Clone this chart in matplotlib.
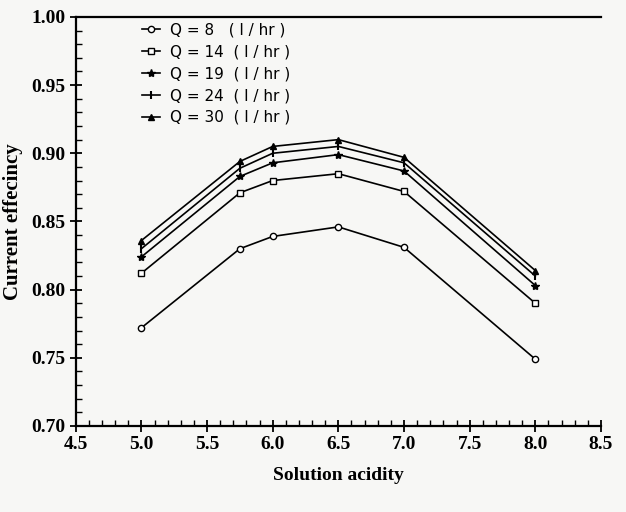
import matplotlib.pyplot as plt
from matplotlib.ticker import MultipleLocator

# Solution acidity (x) and current efficiency for each flow rate
acidity = [5.0, 5.75, 6.0, 6.5, 7.0, 8.0]
eff_q8 = [0.772, 0.830, 0.839, 0.846, 0.831, 0.749]
eff_q14 = [0.812, 0.871, 0.880, 0.885, 0.872, 0.790]
eff_q19 = [0.824, 0.883, 0.893, 0.899, 0.887, 0.803]
eff_q24 = [0.830, 0.889, 0.900, 0.905, 0.893, 0.810]
eff_q30 = [0.836, 0.894, 0.905, 0.910, 0.897, 0.814]

labels = ['Q = 8   ( l / hr )', 'Q = 14  ( l / hr )', 'Q = 19  ( l / hr )',
          'Q = 24  ( l / hr )', 'Q = 30  ( l / hr )']

serif = 'Liberation Serif'

fig = plt.figure(figsize=(6.26, 5.12), dpi=100)
fig.patch.set_facecolor('#f7f7f5')
ax = fig.add_axes([0.121, 0.168, 0.839, 0.799])
ax.set_facecolor('#f7f7f5')

ax.plot(acidity, eff_q8, color='black', lw=1.2, marker='o', ms=4.5,
        mfc='white', mec='black', mew=1.0, label=labels[0])
ax.plot(acidity, eff_q14, color='black', lw=1.2, marker='s', ms=4.5,
        mfc='white', mec='black', mew=1.0, label=labels[1])
ax.plot(acidity, eff_q19, color='black', lw=1.2, marker='*', ms=6,
        mfc='black', mec='black', label=labels[2])
ax.plot(acidity, eff_q24, color='black', lw=1.2, marker='|', ms=6,
        mec='black', mew=1.5, label=labels[3])
ax.plot(acidity, eff_q30, color='black', lw=1.2, marker='^', ms=4.5,
        mfc='black', mec='black', label=labels[4])

ax.set_xlim(4.5, 8.5)
ax.set_ylim(0.70, 1.00)
ax.xaxis.set_major_locator(MultipleLocator(0.5))
ax.xaxis.set_minor_locator(MultipleLocator(0.1))
ax.yaxis.set_major_locator(MultipleLocator(0.05))
ax.yaxis.set_minor_locator(MultipleLocator(0.01))
ax.xaxis.set_major_formatter(plt.FormatStrFormatter('%.1f'))
ax.yaxis.set_major_formatter(plt.FormatStrFormatter('%.2f'))

ax.spines['right'].set_visible(False)
for s in ['left', 'bottom', 'top']:
    ax.spines[s].set_linewidth(1.6)

ax.tick_params(axis='both', which='major', direction='inout', length=8, width=1.3,
               top=False, right=False)
ax.tick_params(axis='both', which='minor', direction='in', length=4, width=1.0,
               top=False, right=False)
for lab in ax.get_xticklabels() + ax.get_yticklabels():
    lab.set_fontfamily(serif)
    lab.set_fontweight('bold')
    lab.set_fontsize(14)

ax.set_xlabel('Solution acidity', fontfamily=serif, fontweight='bold', fontsize=14, labelpad=10)
ax.set_ylabel('Current effecincy', fontfamily=serif, fontweight='bold', fontsize=15, labelpad=6)

ax.legend(loc='upper left', bbox_to_anchor=(0.1, 1.02), frameon=False,
          prop={'family': ['Liberation Sans Narrow', 'DejaVu Sans'], 'size': 11},
          handlelength=1.2, labelspacing=0.45, handletextpad=0.6)

fig.savefig('out.png', dpi=100, facecolor=fig.get_facecolor())
